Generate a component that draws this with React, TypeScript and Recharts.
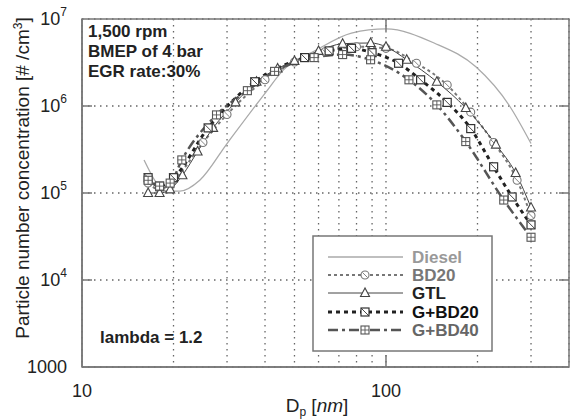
import { LineChart, Line, XAxis, YAxis, CartesianGrid, ReferenceArea } from "recharts";

// Data (diameter in nm, concentration in #/cm3)
const dieselD = [16, 19, 21, 24.4, 30, 40, 46, 59, 77, 100, 144, 198, 255, 300];
const dieselV = [2.4e5, 1.05e5, 1.05e5, 1.4e5, 3.7e5, 1.4e6, 2.6e6, 4.4e6, 6.9e6, 7.7e6, 5.3e6, 2.8e6, 1.0e6, 3.7e5];

const bd20D = [16.5, 18, 20, 25, 30, 40, 50, 63, 80, 100, 126, 159, 190, 226, 270, 300];
const bd20V = [1.3e5, 1.1e5, 1.4e5, 3.8e5, 8e5, 2.0e6, 3.2e6, 4.2e6, 4.8e6, 4.6e6, 3.1e6, 1.74e6, 8.5e5, 3.8e5, 1.4e5, 5.5e4];

const gtlD = [16.5, 18, 19.5, 21.4, 24, 27, 32, 37.5, 44, 50, 60, 72, 89, 100, 117, 147, 183, 230, 267, 300];
const gtlV = [1.0e5, 1.0e5, 1.1e5, 1.6e5, 3.0e5, 5.6e5, 1.1e6, 1.9e6, 2.7e6, 3.3e6, 4.3e6, 5.2e6, 5.3e6, 4.8e6, 3.4e6, 1.9e6, 9.5e5, 3.6e5, 1.7e5, 6.8e4];

const gbd20D = [16.5, 18, 20, 26, 37, 54, 65, 77, 90, 110, 130, 159, 190, 226, 260, 300];
const gbd20V = [1.5e5, 1.2e5, 1.5e5, 5.6e5, 1.9e6, 3.6e6, 4.3e6, 4.6e6, 4.1e6, 3.1e6, 2.0e6, 1.1e6, 5.5e5, 2.0e5, 9e4, 4.3e4];

const gbd40D = [16.5, 18, 19.5, 21.3, 27.7, 35, 43, 58, 72, 89, 119, 147, 183, 244, 300];
const gbd40V = [1.4e5, 1.2e5, 1.3e5, 2.4e5, 7.9e5, 1.5e6, 2.5e6, 3.6e6, 3.9e6, 3.4e6, 2.0e6, 1.03e6, 3.9e5, 8.3e4, 3.1e4];

const xTicks = [10, 20, 30, 40, 50, 60, 70, 80, 90, 100, 200, 300];
const xLabels = [10, 100];
const yTicks = [1000, 1e4, 1e5, 1e6, 1e7];

const zip = (d: number[], v: number[]) => d.map((x, i) => ({ d: x, v: v[i] }));

const PLOT = { left: 82, top: 19, right: 569, bottom: 367 };
const FONT = "'Liberation Sans', Arial, sans-serif";

type Kind = "none" | "circle" | "triangle" | "squareDiag" | "squareCross";

function Marker({ kind, cx, cy, color }: { kind: Kind; cx: number; cy: number; color: string }) {
  const h = 4;
  if (kind === "circle")
    return (
      <g>
        <circle cx={cx} cy={cy} r={4} fill="#fff" stroke={color} strokeWidth={1.1} />
        <line x1={cx - 2.6} y1={cy - 2.6} x2={cx + 2.6} y2={cy + 2.6} stroke={color} strokeWidth={0.9} />
      </g>
    );
  if (kind === "triangle")
    return (
      <polygon
        points={`${cx},${cy - 5} ${cx - 4.5},${cy + 3.5} ${cx + 4.5},${cy + 3.5}`}
        fill="#fff"
        stroke={color}
        strokeWidth={1.1}
      />
    );
  if (kind === "squareDiag")
    return (
      <g>
        <rect x={cx - h} y={cy - h} width={2 * h} height={2 * h} fill="#fff" stroke={color} strokeWidth={1.2} />
        <line x1={cx - h} y1={cy - h} x2={cx + h} y2={cy + h} stroke={color} strokeWidth={0.9} />
      </g>
    );
  if (kind === "squareCross")
    return (
      <g>
        <rect x={cx - h} y={cy - h} width={2 * h} height={2 * h} fill="#fff" stroke={color} strokeWidth={1.1} />
        <line x1={cx - h} y1={cy} x2={cx + h} y2={cy} stroke={color} strokeWidth={0.9} />
        <line x1={cx} y1={cy - h} x2={cx} y2={cy + h} stroke={color} strokeWidth={0.9} />
      </g>
    );
  return null;
}

const series = [
  { name: "Diesel", data: zip(dieselD, dieselV), color: "#aaa", text: "#999", width: 1.3, dash: undefined, kind: "none" as Kind },
  { name: "BD20", data: zip(bd20D, bd20V), color: "#777", text: "#777", width: 2, dash: "3 3", kind: "circle" as Kind },
  { name: "GTL", data: zip(gtlD, gtlV), color: "#444", text: "#222", width: 1, dash: undefined, kind: "triangle" as Kind },
  { name: "G+BD20", data: zip(gbd20D, gbd20V), color: "#222", text: "#111", width: 3, dash: "4 4", kind: "squareDiag" as Kind },
  { name: "G+BD40", data: zip(gbd40D, gbd40V), color: "#555", text: "#666", width: 2.5, dash: "10 4 3 4", kind: "squareCross" as Kind },
];

function YTick(props: any) {
  const { y, payload } = props;
  const exp = Math.round(Math.log10(payload.value));
  const inner = exp > 3 && exp < 7;
  return (
    <g>
      {inner && (
        <>
          <line x1={PLOT.left} x2={PLOT.left + 10} y1={y} y2={y} stroke="#777" strokeWidth={1.5} />
          <line x1={PLOT.right - 10} x2={PLOT.right} y1={y} y2={y} stroke="#777" strokeWidth={1.5} />
        </>
      )}
      <text x={67} y={y} dy={6} textAnchor="end" fontSize={18} fill="#222" fontFamily={FONT}>
        {exp === 3 ? (
          "1000"
        ) : (
          <>
            10
            <tspan dy={-9} fontSize={12}>
              {exp}
            </tspan>
          </>
        )}
      </text>
    </g>
  );
}

function XTick(props: any) {
  const { x, payload } = props;
  if (!xLabels.includes(payload.value)) return <g />;
  return (
    <g>
      {payload.value === 100 && (
        <>
          <line x1={x} x2={x} y1={PLOT.bottom - 12} y2={PLOT.bottom} stroke="#777" strokeWidth={1.5} />
          <line x1={x} x2={x} y1={PLOT.top} y2={PLOT.top + 12} stroke="#777" strokeWidth={1.5} />
        </>
      )}
      <text x={x} y={PLOT.bottom + 30} textAnchor="middle" fontSize={18} fill="#222" fontFamily={FONT}>
        {payload.value}
      </text>
    </g>
  );
}

const legendRows = [257, 275, 293, 312, 330];

export default function App() {
  return (
    <div style={{ position: "absolute", left: 0, top: 0, width: 575, height: 420, background: "#fff" }}>
      <LineChart width={575} height={420} margin={{ top: 19, right: 6, left: 0, bottom: 0 }}>
        <CartesianGrid stroke="#666" strokeDasharray="1.5 4.5" strokeWidth={1.3} />
        <XAxis
          dataKey="d"
          type="number"
          scale="log"
          domain={[10, 400]}
          allowDataOverflow
          ticks={xTicks}
          interval={0}
          height={53}
          tickLine={false}
          axisLine={{ stroke: "#777", strokeWidth: 1.5 }}
          tick={<XTick />}
        />
        <YAxis
          type="number"
          scale="log"
          domain={[1000, 1e7]}
          allowDataOverflow
          ticks={yTicks}
          interval={0}
          width={82}
          tickLine={false}
          axisLine={{ stroke: "#777", strokeWidth: 1.5 }}
          tick={<YTick />}
        />
        <ReferenceArea x1={10} x2={400} y1={1000} y2={1e7} fill="none" stroke="#777" strokeWidth={1.5} />
        {series.map((s) => (
          <Line
            key={s.name}
            data={s.data}
            dataKey="v"
            name={s.name}
            type="monotone"
            stroke={s.color}
            strokeWidth={s.width}
            strokeDasharray={s.dash}
            isAnimationActive={false}
            dot={(p: any) => <Marker key={p.index} kind={s.kind} cx={p.cx} cy={p.cy} color={s.color === "#222" ? "#333" : s.color} />}
            activeDot={false}
          />
        ))}
      </LineChart>

      <svg
        width={575}
        height={420}
        style={{ position: "absolute", left: 0, top: 0, pointerEvents: "none" }}
        fontFamily={FONT}
      >
        <g fontSize={17} fontWeight="bold" fill="#222">
          <text x={88} y={37}>1,500 rpm</text>
          <text x={88} y={57}>BMEP of 4 bar</text>
          <text x={88} y={77}>EGR rate:30%</text>
          <text x={100} y={343}>lambda = 1.2</text>
        </g>
        <text transform="translate(29,178) rotate(-90)" textAnchor="middle" fontSize={19} fill="#222">
          Particle number concentration [# /cm
          <tspan dy={-7} fontSize={12}>3</tspan>
          <tspan dy={7}>]</tspan>
        </text>
        <text x={317} y={412} textAnchor="middle" fontSize={19} fill="#222">
          D<tspan dy={4} fontSize={12}>p</tspan>
          <tspan dy={-4}> [</tspan>
          <tspan fontStyle="italic">nm</tspan>]
        </text>

        <rect x={313} y={236} width={179} height={115} fill="#fff" stroke="#777" strokeWidth={1.5} />
        {series.map((s, i) => {
          const y = legendRows[i];
          return (
            <g key={s.name}>
              <line x1={328} x2={403} y1={y} y2={y} stroke={s.color} strokeWidth={s.width} strokeDasharray={s.dash} />
              <Marker kind={s.kind} cx={365} cy={y} color={s.color === "#222" ? "#333" : s.color} />
              <text x={412} y={y + 6} fontSize={17} fontWeight="bold" fill={s.text}>
                {s.name}
              </text>
            </g>
          );
        })}
      </svg>
    </div>
  );
}
